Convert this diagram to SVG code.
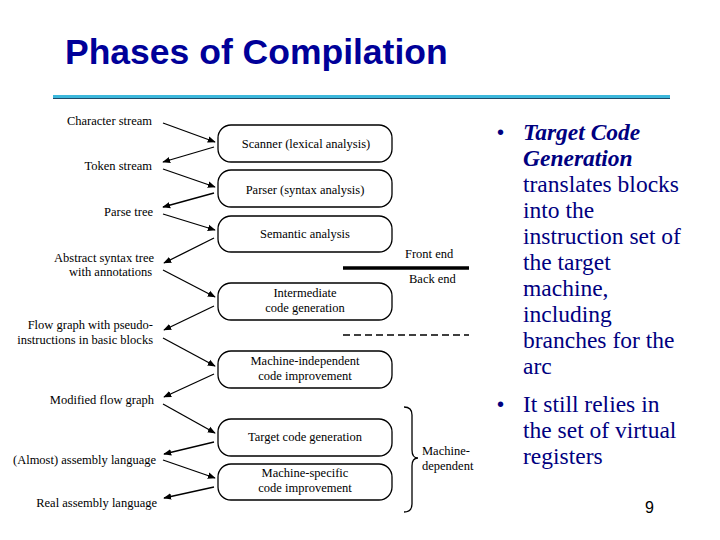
<svg xmlns="http://www.w3.org/2000/svg" width="720" height="540" viewBox="0 0 720 540">
<defs>
<marker id="ah" viewBox="0 0 10 10" refX="9" refY="5" markerWidth="8" markerHeight="8" markerUnits="userSpaceOnUse" orient="auto">
<path d="M0,1 L10,5 L0,9 z" fill="#000"/>
</marker>
<style>
.box{fill:#fff;stroke:#000;stroke-width:1.3}
.bt{font-family:"Liberation Serif","Times New Roman",serif;font-size:12.5px;fill:#000;text-anchor:middle}
.lb{font-family:"Liberation Serif","Times New Roman",serif;font-size:12.5px;fill:#000;text-anchor:end}
.sm{font-family:"Liberation Serif","Times New Roman",serif;font-size:12.5px;fill:#000}
.ar{stroke:#000;stroke-width:1.3;fill:none;marker-end:url(#ah)}
.rt{font-family:"Liberation Serif","Times New Roman",serif;font-size:23.5px;fill:#000080}
.bu{font-family:"Liberation Sans",Arial,sans-serif;font-size:20px;fill:#000080}
</style>
</defs>
<rect width="720" height="540" fill="#fff"/>
<text x="65" y="64" font-family="'Liberation Sans',Arial,sans-serif" font-weight="bold" font-size="35.5" fill="#000099">Phases of Compilation</text>
<rect x="53" y="95" width="617" height="3" fill="#3cb8dc"/>
<rect x="53" y="98" width="617" height="1" fill="#1e4a6a"/>

<g id="labels">
<text class="lb" x="152" y="125">Character stream</text>
<text class="lb" x="152" y="170">Token stream</text>
<text class="lb" x="153" y="216">Parse tree</text>
<text class="lb" x="154" y="262">Abstract syntax tree</text>
<text class="lb" x="152" y="276">with annotations</text>
<text class="lb" x="153" y="329">Flow graph with pseudo-</text>
<text class="lb" x="153" y="344">instructions in basic blocks</text>
<text class="lb" x="154" y="404">Modified flow graph</text>
<text class="lb" x="156" y="464">(Almost) assembly language</text>
<text class="lb" x="157" y="507">Real assembly language</text>
</g>

<g id="scanner"><rect class="box" x="218" y="125" width="174" height="37" rx="13"/><text class="bt" x="306" y="148">Scanner (lexical analysis)</text></g>
<g id="parser"><rect class="box" x="218" y="170" width="174" height="37" rx="13"/><text class="bt" x="305" y="194">Parser (syntax analysis)</text></g>
<g id="semantic"><rect class="box" x="218" y="216" width="174" height="36" rx="13"/><text class="bt" x="305" y="238">Semantic analysis</text></g>
<g id="intermediate"><rect class="box" x="218" y="283" width="174" height="37" rx="13"/><text class="bt" x="305" y="297">Intermediate</text><text class="bt" x="305" y="312">code generation</text></g>
<g id="mi"><rect class="box" x="218" y="351" width="174" height="37" rx="13"/><text class="bt" x="305" y="365">Machine-independent</text><text class="bt" x="305" y="380">code improvement</text></g>
<g id="target"><rect class="box" x="218" y="419" width="174" height="37" rx="13"/><text class="bt" x="305" y="441">Target code generation</text></g>
<g id="ms"><rect class="box" x="218" y="464" width="174" height="36" rx="13"/><text class="bt" x="305" y="477">Machine-specific</text><text class="bt" x="305" y="492">code improvement</text></g>

<g id="connectors">
<line class="ar" x1="163" y1="123" x2="215" y2="142"/>
<line class="ar" x1="214" y1="147" x2="163" y2="162"/>
<line class="ar" x1="163" y1="169" x2="215" y2="187"/>
<line class="ar" x1="214" y1="193" x2="163" y2="207"/>
<line class="ar" x1="163" y1="214" x2="215" y2="230"/>
<line class="ar" x1="214" y1="238" x2="164" y2="263"/>
<line class="ar" x1="163" y1="270" x2="215" y2="297"/>
<line class="ar" x1="214" y1="306" x2="164" y2="330"/>
<line class="ar" x1="163" y1="338" x2="215" y2="366"/>
<line class="ar" x1="214" y1="374" x2="164" y2="397"/>
<line class="ar" x1="163" y1="404" x2="215" y2="433"/>
<line class="ar" x1="214" y1="442" x2="164" y2="454"/>
<line class="ar" x1="163" y1="460" x2="215" y2="478"/>
<line class="ar" x1="214" y1="487" x2="164" y2="498"/>
</g>

<g id="divider">
<text class="sm" x="405" y="258">Front end</text>
<line x1="343" y1="268" x2="469" y2="268" stroke="#000" stroke-width="3.5"/>
<text class="sm" x="409" y="283">Back end</text>
<line x1="343" y1="335" x2="469" y2="335" stroke="#000" stroke-width="1.5" stroke-dasharray="7,4"/>
</g>

<g id="brace">
<path d="M404,407 Q412,407 412,415 L412,450 Q412,458 418,458 Q412,458 412,466 L412,504 Q412,512 404,512" fill="none" stroke="#000" stroke-width="1.3"/>
<text class="sm" x="422" y="455">Machine-</text>
<text class="sm" x="422" y="470">dependent</text>
</g>

<g id="bullets">
<text class="bu" x="497" y="139">•</text>
<text class="rt" x="523" y="140" font-weight="bold" font-style="italic">Target Code</text>
<text class="rt" x="523" y="166" font-weight="bold" font-style="italic">Generation</text>
<text class="rt" x="523" y="192">translates blocks</text>
<text class="rt" x="523" y="218">into the</text>
<text class="rt" x="523" y="244">instruction set of</text>
<text class="rt" x="523" y="270">the target</text>
<text class="rt" x="523" y="296">machine,</text>
<text class="rt" x="523" y="322">including</text>
<text class="rt" x="523" y="348">branches for the</text>
<text class="rt" x="523" y="374">arc</text>
<text class="bu" x="497" y="411">•</text>
<text class="rt" x="523" y="412">It still relies in</text>
<text class="rt" x="523" y="438">the set of virtual</text>
<text class="rt" x="523" y="464">registers</text>
</g>
<text x="645" y="513" font-family="'Liberation Sans',Arial,sans-serif" font-size="16" fill="#000">9</text>
</svg>
